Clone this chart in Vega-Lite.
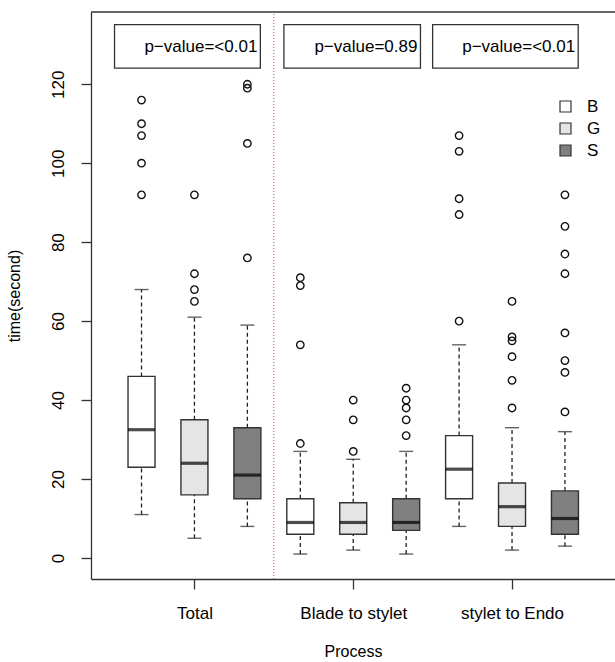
{
  "$schema": "https://vega.github.io/schema/vega-lite/v6.json",
  "autosize": "none",
  "width": 524,
  "height": 567,
  "padding": {"left": 91, "top": 12, "right": 0, "bottom": 83},
  "background": "white",
  "config": {
    "view": {"stroke": null},
    "font": "Liberation Sans",
    "axis": {"grid": false, "domainColor": "#333333", "tickColor": "#333333", "labelColor": "#000000", "titleColor": "#000000", "labelFont": "Liberation Sans", "titleFont": "Liberation Sans", "labelFontSize": 17, "titleFontSize": 16, "titleFontWeight": "normal", "domainWidth": 1.3, "tickWidth": 1.3, "tickSize": 10}
  },
  "datasets": {
    "boxes": [
      {"process": "Total", "group": "B", "pos": 1, "lw": 11, "q1": 23, "med": 32.5, "q3": 46, "uw": 68},
      {"process": "Total", "group": "G", "pos": 2, "lw": 5, "q1": 16, "med": 24, "q3": 35, "uw": 61},
      {"process": "Total", "group": "S", "pos": 3, "lw": 8, "q1": 15, "med": 21, "q3": 33, "uw": 59},
      {"process": "Blade to stylet", "group": "B", "pos": 4, "lw": 1, "q1": 6, "med": 9, "q3": 15, "uw": 27},
      {"process": "Blade to stylet", "group": "G", "pos": 5, "lw": 2, "q1": 6, "med": 9, "q3": 14, "uw": 25},
      {"process": "Blade to stylet", "group": "S", "pos": 6, "lw": 1, "q1": 7, "med": 9, "q3": 15, "uw": 27},
      {"process": "stylet to Endo", "group": "B", "pos": 7, "lw": 8, "q1": 15, "med": 22.5, "q3": 31, "uw": 54},
      {"process": "stylet to Endo", "group": "G", "pos": 8, "lw": 2, "q1": 8, "med": 13, "q3": 19, "uw": 33},
      {"process": "stylet to Endo", "group": "S", "pos": 9, "lw": 3, "q1": 6, "med": 10, "q3": 17, "uw": 32}
    ],
    "outliers": [
      {"pos": 1, "value": 116}, {"pos": 1, "value": 110}, {"pos": 1, "value": 107}, {"pos": 1, "value": 100}, {"pos": 1, "value": 92},
      {"pos": 2, "value": 92}, {"pos": 2, "value": 72}, {"pos": 2, "value": 68}, {"pos": 2, "value": 65},
      {"pos": 3, "value": 120}, {"pos": 3, "value": 119}, {"pos": 3, "value": 105}, {"pos": 3, "value": 76},
      {"pos": 4, "value": 71}, {"pos": 4, "value": 69}, {"pos": 4, "value": 54}, {"pos": 4, "value": 29},
      {"pos": 5, "value": 40}, {"pos": 5, "value": 35}, {"pos": 5, "value": 27},
      {"pos": 6, "value": 43}, {"pos": 6, "value": 40}, {"pos": 6, "value": 38}, {"pos": 6, "value": 35}, {"pos": 6, "value": 31},
      {"pos": 7, "value": 107}, {"pos": 7, "value": 103}, {"pos": 7, "value": 91}, {"pos": 7, "value": 87}, {"pos": 7, "value": 60},
      {"pos": 8, "value": 65}, {"pos": 8, "value": 56}, {"pos": 8, "value": 55}, {"pos": 8, "value": 51}, {"pos": 8, "value": 45}, {"pos": 8, "value": 38},
      {"pos": 9, "value": 92}, {"pos": 9, "value": 84}, {"pos": 9, "value": 77}, {"pos": 9, "value": 72}, {"pos": 9, "value": 57}, {"pos": 9, "value": 50}, {"pos": 9, "value": 47}, {"pos": 9, "value": 37}
    ],
    "pvalues": [
      {"x1": 0.49, "x2": 3.245, "label": "p\u2212value=<0.01"},
      {"x1": 3.69, "x2": 6.27, "label": "p\u2212value=0.89"},
      {"x1": 6.50, "x2": 9.25, "label": "p\u2212value=<0.01"}
    ]
  },
  "layer": [
    {
      "data": {"values": [{"sep": 3.5}]},
      "mark": {"type": "rule", "color": "#e0406a", "strokeDash": [1, 2], "strokeWidth": 1},
      "encoding": {
        "x": {"field": "sep", "type": "quantitative", "scale": {"domain": [0.14, 9.851], "nice": false, "zero": false},
          "axis": {"values": [2, 5, 8], "labelExpr": "datum.value == 2 ? 'Total' : datum.value == 5 ? 'Blade to stylet' : 'stylet to Endo'", "title": "Process", "labelPadding": 16, "titlePadding": 22, "labelFlush": false, "labelOverlap": false}},
        "y": {"datum": -5.32, "type": "quantitative", "scale": {"domain": [-5.32, 138.3], "nice": false, "zero": false},
          "axis": {"values": [0, 20, 40, 60, 80, 100, 120], "title": "time(second)", "labelAngle": -90, "labelAlign": "center", "labelBaseline": "bottom", "labelPadding": 14, "titlePadding": 27}},
        "y2": {"datum": 138.3}
      }
    },
    {
      "data": {"values": [{"top": 138.3}]},
      "mark": {"type": "rule", "color": "#333333", "strokeWidth": 1.3},
      "encoding": {"y": {"field": "top", "type": "quantitative"}}
    },
    {
      "data": {"name": "boxes"},
      "mark": {"type": "rule", "color": "#222222", "strokeDash": [4, 3], "strokeWidth": 1.3},
      "encoding": {"x": {"field": "pos", "type": "quantitative"}, "y": {"field": "q3", "type": "quantitative"}, "y2": {"field": "uw"}}
    },
    {
      "data": {"name": "boxes"},
      "mark": {"type": "rule", "color": "#222222", "strokeDash": [4, 3], "strokeWidth": 1.3},
      "encoding": {"x": {"field": "pos", "type": "quantitative"}, "y": {"field": "lw", "type": "quantitative"}, "y2": {"field": "q1"}}
    },
    {
      "data": {"name": "boxes"},
      "mark": {"type": "tick", "orient": "horizontal", "size": 14, "thickness": 1.4, "color": "#222222"},
      "encoding": {"x": {"field": "pos", "type": "quantitative"}, "y": {"field": "uw", "type": "quantitative"}}
    },
    {
      "data": {"name": "boxes"},
      "mark": {"type": "tick", "orient": "horizontal", "size": 14, "thickness": 1.4, "color": "#222222"},
      "encoding": {"x": {"field": "pos", "type": "quantitative"}, "y": {"field": "lw", "type": "quantitative"}}
    },
    {
      "data": {"name": "boxes"},
      "mark": {"type": "bar", "size": 27, "stroke": "#333333", "strokeWidth": 1.4, "orient": "vertical"},
      "encoding": {
        "x": {"field": "pos", "type": "quantitative"},
        "y": {"field": "q1", "type": "quantitative"},
        "y2": {"field": "q3"},
        "fill": {"field": "group", "type": "nominal", "scale": {"domain": ["B", "G", "S"], "range": ["#ffffff", "#e5e5e5", "#808080"]},
          "legend": {"title": null, "orient": "none", "legendX": 466, "legendY": 86, "symbolType": "square", "symbolSize": 121, "symbolStrokeColor": "#333333", "symbolStrokeWidth": 1.2, "symbolOpacity": 1, "labelFontSize": 17, "labelFont": "Liberation Sans", "labelColor": "#000000", "labelOffset": 13, "rowPadding": 4}}
      }
    },
    {
      "data": {"name": "boxes"},
      "mark": {"type": "tick", "orient": "horizontal", "size": 27, "thickness": 3.2, "color": "#000000"},
      "encoding": {"x": {"field": "pos", "type": "quantitative"}, "y": {"field": "med", "type": "quantitative"}}
    },
    {
      "data": {"name": "outliers"},
      "mark": {"type": "point", "shape": "circle", "filled": false, "size": 55, "strokeWidth": 1.4, "color": "#111111", "opacity": 1},
      "encoding": {"x": {"field": "pos", "type": "quantitative"}, "y": {"field": "value", "type": "quantitative"}}
    },
    {
      "data": {"name": "pvalues"},
      "mark": {"type": "rect", "fill": "white", "stroke": "#333333", "strokeWidth": 1.3},
      "encoding": {"x": {"field": "x1", "type": "quantitative"}, "x2": {"field": "x2"}, "y": {"datum": 124.1}, "y2": {"datum": 135.1}}
    },
    {
      "data": {"name": "pvalues"},
      "mark": {"type": "text", "align": "right", "baseline": "middle", "fontSize": 17, "font": "Liberation Sans", "color": "#000000", "dx": -3},
      "encoding": {"x": {"field": "x2", "type": "quantitative"}, "y": {"datum": 129.5}, "text": {"field": "label"}}
    }
  ]
}
